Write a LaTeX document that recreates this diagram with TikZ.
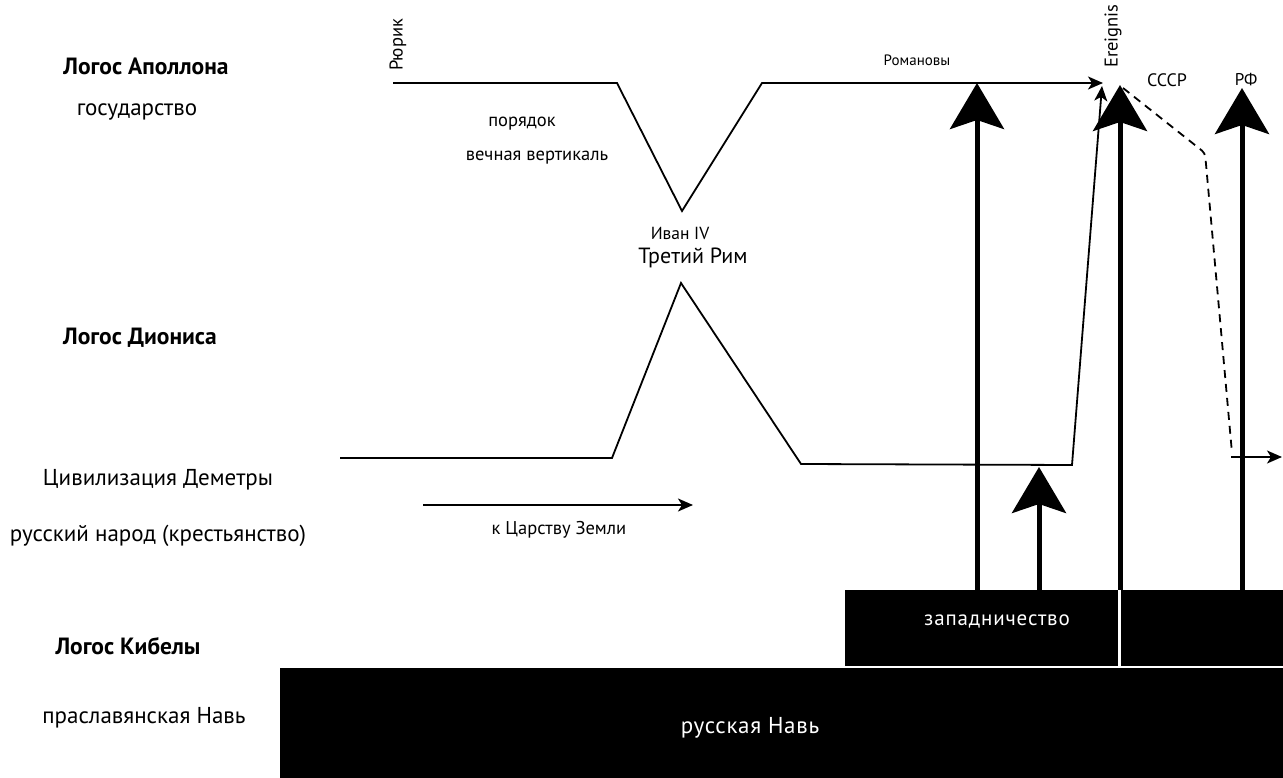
\documentclass[tikz,border=0pt]{standalone}
\usepackage{fontspec}
\setmainfont{PT Sans}
\usetikzlibrary{arrows.meta}
\begin{document}
\begin{tikzpicture}[x=1pt,y=-1pt,
  lbl/.style={inner sep=0pt, font=\fontsize{23}{26}\selectfont},
  hdr/.style={inner sep=0pt, font=\fontsize{23.5}{26}\selectfont\bfseries},
  small/.style={inner sep=0pt, font=\fontsize{18.5}{21}\selectfont},
  thinline/.style={line width=1.8pt, line join=miter},
  thinarrow/.style={thinline, -{Stealth[length=15pt,width=13pt,inset=4pt]}},
  bigarrow/.style={line width=5pt, -{Stealth[length=46pt,width=54pt,inset=9pt]}},
  block/.style={fill=black, draw=none, inner sep=0pt, anchor=north west},
  boxtext/.style={text=white, inner sep=0pt, font=\fontsize{21}{24}\selectfont\addfontfeature{LetterSpace=4}}]
\useasboundingbox (0,0) rectangle (1283,778);

% level labels on the left
\node[hdr] (apollo) at (146,66) {Логос Аполлона};
\node[lbl] (state) at (137,112) {государство};
\node[hdr] (dionysus) at (140,338) {Логос Диониса};
\node[lbl] (demeter) at (158,480) {Цивилизация Деметры};
\node[lbl] (people) at (158,536) {русский народ (крестьянство)};
\node[hdr] (cybele) at (128,646) {Логос Кибелы};
\node[lbl] (nav) at (144,718) {праславянская Навь};

% black blocks at the bottom
\node[block, minimum width=273pt, minimum height=76pt] (west) at (845,590) {};
\node[block, minimum width=163pt, minimum height=76pt] (westR) at (1120,590) {};
\node[block, minimum width=1003pt, minimum height=110pt] (navbox) at (280,668) {};
\node[boxtext] (westtxt) at (997,621) {западничество};
\node[boxtext, font=\fontsize{23}{26}\selectfont\addfontfeature{LetterSpace=3}] (navtxt) at (750,728) {русская Навь};

% state line (Apollo)
\coordinate (r0) at (393,83);
\coordinate (r1) at (617,83);
\coordinate (r2) at (682,211);
\coordinate (r3) at (762,83);
\coordinate (r4) at (1103,83);
\draw[thinarrow] (r0) -- (r1) -- (r2) -- (r3) -- (r4);

% people line (Demeter)
\coordinate (d0) at (340,458);
\coordinate (d1) at (612,458);
\coordinate (d2) at (681,283);
\coordinate (d3) at (801,464);
\coordinate (d4) at (1072,465);
\coordinate (d5) at (1102,86);
\draw[thinarrow] (d0) -- (d1) -- (d2) -- (d3) -- (d4) -- (d5);

% short arrow towards the Kingdom of the Earth
\coordinate (k0) at (423,505);
\coordinate (k1) at (693,505);
\draw[thinarrow] (k0) -- (k1);

% thick upward arrows out of the west block
\coordinate (a1e) at (977,83);
\coordinate (a2e) at (1039,467);
\coordinate (a3e) at (1120,85);
\coordinate (a4e) at (1242,88);
\draw[bigarrow] (west.north -| a1e) -- (a1e);
\draw[bigarrow] (west.north -| a2e) -- (a2e);
\draw[bigarrow] (west.north -| a3e) -- (a3e);
\draw[bigarrow] (westR.north -| a4e) -- (a4e);

% white split through the blocks
\draw[white, line width=2.5pt] (1119.5,590) -- (1119.5,668);

% dashed USSR line
\coordinate (e0) at (1123,88);
\coordinate (e1) at (1205,153);
\coordinate (e2) at (1232,453);
\coordinate (f0) at (1231,457);
\coordinate (f1) at (1282,457);
\draw[thinline, dash pattern=on 8pt off 6pt, rounded corners=4pt] (e0) -- (e1) -- (e2);
\draw[thinarrow] (f0) -- (f1);

% labels along the lines
\node[small, rotate=90] (rurik) at (398,45) {Рюрик};
\node[small] (order) at (522,124) {порядок};
\node[small] (vertical) at (537,158) {вечная вертикаль};
\node[small, font=\fontsize{17.5}{20}\selectfont] (ivan) at (680,233) {Иван IV};
\node[inner sep=0pt, font=\fontsize{22}{26}\selectfont] (rome) at (693,258) {Третий Рим};
\node[small, font=\fontsize{15}{18}\selectfont] (romanov) at (917,60) {Романовы};
\node[small, rotate=90] (ereignis) at (1113,36) {Ereignis};
\node[small, font=\fontsize{18}{21}\selectfont] (ussr) at (1167,80) {СССР};
\node[small, font=\fontsize{17}{20}\selectfont] (rf) at (1246,80) {РФ};
\node[small] (earth) at (559,530) {к Царству Земли};
\end{tikzpicture}
\end{document}
